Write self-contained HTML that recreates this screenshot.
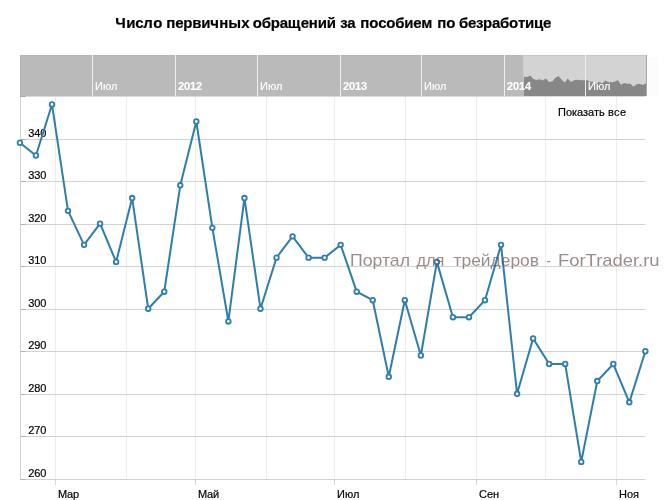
<!DOCTYPE html>
<html><head><meta charset="utf-8">
<style>
html,body{margin:0;padding:0;background:#fff;}
body{width:666px;height:500px;overflow:hidden;position:relative;font-family:"Liberation Sans",sans-serif;}
svg{position:absolute;left:0;top:0;will-change:transform;}
text{font-family:"Liberation Sans",sans-serif;}
line{stroke-width:1px;}
.ti{font-size:15px;font-weight:bold;fill:#000;stroke:#000;stroke-width:0.2px;}
.yl{font-size:11px;fill:#000;stroke:#000;stroke-width:0.2px;}
.xl{font-size:11px;fill:#000;stroke:#000;stroke-width:0.2px;}
.nl{font-size:11px;fill:#fff;stroke:#fff;stroke-width:0.15px;}
.nlb{font-size:11px;fill:#fff;font-weight:bold;stroke:#fff;stroke-width:0.15px;}
.wm{font-size:17px;fill:#6a4f4f;stroke:none;}
.btn{font-size:11px;fill:#000;stroke:#000;stroke-width:0.2px;}
</style></head>
<body>
<svg width="666" height="500" viewBox="0 0 666 500">
<rect x="20" y="55" width="627" height="41" fill="#bababa"/>
<rect x="524" y="55" width="123" height="41" fill="#d3d3d3"/>
<polygon points="524,96 524.00,76.72 527.13,77.12 530.26,75.50 533.38,78.88 536.51,79.95 539.64,79.28 542.77,80.50 545.90,78.47 549.03,81.98 552.15,81.44 555.28,78.06 558.41,76.04 561.54,79.42 564.67,82.39 567.79,78.47 570.92,81.98 574.05,80.36 577.18,79.69 580.31,80.36 583.44,80.36 586.56,79.95 589.69,81.44 592.82,81.71 595.95,84.14 599.08,81.71 602.21,83.47 605.33,80.50 608.46,82.25 611.59,82.25 614.72,81.71 617.85,79.95 620.97,84.68 624.10,82.92 627.23,83.73 630.36,83.73 633.49,86.84 636.62,84.28 639.74,83.73 642.87,84.95 646.00,83.33 646.5,96" fill="#878787"/>
<line x1="20" y1="55.5" x2="524" y2="55.5" stroke="#b4b4b4"/>
<line x1="20.5" y1="55" x2="20.5" y2="96" stroke="#b3b3b3"/>
<line x1="524" y1="55.5" x2="647" y2="55.5" stroke="#c6c6c6"/>
<defs><linearGradient id="eg" x1="0" y1="0" x2="0" y2="1"><stop offset="0" stop-color="#cfcfcf"/><stop offset="0.55" stop-color="#cbcbcb"/><stop offset="0.7" stop-color="#b9b9b9"/><stop offset="1" stop-color="#b9b9b9"/></linearGradient></defs>
<rect x="523" y="55" width="1" height="41" fill="url(#eg)"/>
<line x1="92.5" y1="55" x2="92.5" y2="96" stroke="#eeeeee"/>
<text x="95.00 103.00 111.00" y="90.00" class="nl">Июл</text>
<line x1="175.5" y1="55" x2="175.5" y2="96" stroke="#eeeeee"/>
<text x="178.00 184.00 190.00 196.00" y="90.00" class="nlb">2012</text>
<line x1="257.5" y1="55" x2="257.5" y2="96" stroke="#eeeeee"/>
<text x="260.00 268.00 276.00" y="90.00" class="nl">Июл</text>
<line x1="340.5" y1="55" x2="340.5" y2="96" stroke="#eeeeee"/>
<text x="343.00 349.00 355.00 361.00" y="90.00" class="nlb">2013</text>
<line x1="421.5" y1="55" x2="421.5" y2="96" stroke="#eeeeee"/>
<text x="424.00 432.00 440.00" y="90.00" class="nl">Июл</text>
<line x1="504.5" y1="55" x2="504.5" y2="96" stroke="#eeeeee"/>
<text x="507.00 513.00 519.00 525.00" y="90.00" class="nlb">2014</text>
<line x1="585.5" y1="55" x2="585.5" y2="96" stroke="#eeeeee"/>
<text x="588.00 596.00 604.00" y="90.00" class="nl">Июл</text>
<line x1="646.5" y1="55" x2="646.5" y2="96" stroke="#a8a8a8"/>
<rect x="647" y="57" width="12" height="39" fill="#fcfcfc"/>
<text x="115.30 126.30 135.30 143.30 153.30" y="27.50" class="ti">Число</text>
<text x="166.30 175.30 183.30 192.30 201.30 210.30 219.30 228.30 241.30" y="27.50" class="ti">первичных</text>
<text x="252.70 261.70 270.70 279.70 287.70 300.70 308.70 317.70 326.70" y="27.50" class="ti">обращений</text>
<text x="340.30 347.30" y="27.50" class="ti">за</text>
<text x="360.20 369.20 378.20 386.20 395.20 404.20 413.20 421.20" y="27.50" class="ti">пособием</text>
<text x="437.30 446.30" y="27.50" class="ti">по</text>
<text x="459.10 468.10 476.10 483.10 492.10 500.10 509.10 518.10 525.10 534.10 543.10" y="27.50" class="ti">безработице</text>
<line x1="55.5" y1="97" x2="55.5" y2="479" stroke="#ececec"/>
<line x1="55.5" y1="479" x2="55.5" y2="485" stroke="#d4d4d4"/>
<line x1="126.5" y1="97" x2="126.5" y2="479" stroke="#ececec"/>
<line x1="195.5" y1="97" x2="195.5" y2="479" stroke="#ececec"/>
<line x1="195.5" y1="479" x2="195.5" y2="485" stroke="#d4d4d4"/>
<line x1="266.5" y1="97" x2="266.5" y2="479" stroke="#ececec"/>
<line x1="334.5" y1="97" x2="334.5" y2="479" stroke="#ececec"/>
<line x1="334.5" y1="479" x2="334.5" y2="485" stroke="#d4d4d4"/>
<line x1="405.5" y1="97" x2="405.5" y2="479" stroke="#ececec"/>
<line x1="476.5" y1="97" x2="476.5" y2="479" stroke="#ececec"/>
<line x1="476.5" y1="479" x2="476.5" y2="485" stroke="#d4d4d4"/>
<line x1="545.5" y1="97" x2="545.5" y2="479" stroke="#ececec"/>
<line x1="616.5" y1="97" x2="616.5" y2="479" stroke="#ececec"/>
<line x1="616.5" y1="479" x2="616.5" y2="485" stroke="#d4d4d4"/>
<line x1="20" y1="479.5" x2="645.5" y2="479.5" stroke="#d2d2d2"/>
<line x1="20" y1="479.5" x2="25.5" y2="479.5" stroke="#b0b0b0"/>
<text x="28.30 34.30 40.30" y="476.50" class="yl">260</text>
<line x1="20" y1="436.5" x2="645.5" y2="436.5" stroke="#d2d2d2"/>
<line x1="20" y1="436.5" x2="25.5" y2="436.5" stroke="#b0b0b0"/>
<text x="28.30 34.30 40.30" y="433.50" class="yl">270</text>
<line x1="20" y1="394.5" x2="645.5" y2="394.5" stroke="#d2d2d2"/>
<line x1="20" y1="394.5" x2="25.5" y2="394.5" stroke="#b0b0b0"/>
<text x="28.30 34.30 40.30" y="391.50" class="yl">280</text>
<line x1="20" y1="351.5" x2="645.5" y2="351.5" stroke="#d2d2d2"/>
<line x1="20" y1="351.5" x2="25.5" y2="351.5" stroke="#b0b0b0"/>
<text x="28.30 34.30 40.30" y="348.50" class="yl">290</text>
<line x1="20" y1="309.5" x2="645.5" y2="309.5" stroke="#d2d2d2"/>
<line x1="20" y1="309.5" x2="25.5" y2="309.5" stroke="#b0b0b0"/>
<text x="28.30 34.30 40.30" y="306.50" class="yl">300</text>
<line x1="20" y1="266.5" x2="645.5" y2="266.5" stroke="#d2d2d2"/>
<line x1="20" y1="266.5" x2="25.5" y2="266.5" stroke="#b0b0b0"/>
<text x="28.30 34.30 40.30" y="263.50" class="yl">310</text>
<line x1="20" y1="224.5" x2="645.5" y2="224.5" stroke="#d2d2d2"/>
<line x1="20" y1="224.5" x2="25.5" y2="224.5" stroke="#b0b0b0"/>
<text x="28.30 34.30 40.30" y="221.50" class="yl">320</text>
<line x1="20" y1="181.5" x2="645.5" y2="181.5" stroke="#d2d2d2"/>
<line x1="20" y1="181.5" x2="25.5" y2="181.5" stroke="#b0b0b0"/>
<text x="28.30 34.30 40.30" y="178.50" class="yl">330</text>
<line x1="20" y1="139.5" x2="645.5" y2="139.5" stroke="#d2d2d2"/>
<line x1="20" y1="139.5" x2="25.5" y2="139.5" stroke="#b0b0b0"/>
<text x="28.30 34.30 40.30" y="136.50" class="yl">340</text>
<line x1="20.5" y1="96" x2="20.5" y2="480" stroke="#d2d2d2"/>
<line x1="20" y1="96.5" x2="645.5" y2="96.5" stroke="#d9d9d9"/>
<line x1="20" y1="96.5" x2="25.5" y2="96.5" stroke="#a8a8a8"/>
<text x="58.00 67.00 73.00" y="497.50" class="xl">Мар</text>
<text x="198.00 207.00 213.00" y="497.50" class="xl">Май</text>
<text x="337.00 345.00 353.00" y="497.50" class="xl">Июл</text>
<text x="479.00 487.00 493.00" y="497.50" class="xl">Сен</text>
<text x="619.00 627.00 633.00" y="497.50" class="xl">Ноя</text>
<polyline points="19.90,142.75 35.94,155.52 51.98,104.46 68.01,210.83 84.05,244.87 100.09,223.60 116.13,261.89 132.17,198.07 148.20,308.70 164.24,291.68 180.28,185.31 196.32,121.48 212.36,227.85 228.39,321.46 244.43,198.07 260.47,308.70 276.51,257.64 292.55,236.36 308.58,257.64 324.62,257.64 340.66,244.87 356.70,291.68 372.74,300.19 388.77,376.78 404.81,300.19 420.85,355.50 436.89,261.89 452.93,317.21 468.96,317.21 485.00,300.19 501.04,244.87 517.08,393.80 533.12,338.49 549.15,364.01 565.19,364.01 581.23,461.88 597.27,381.03 613.31,364.01 629.34,402.31 645.38,351.25" fill="none" stroke="#2e7eaa" stroke-width="2" stroke-linejoin="miter"/>
<circle cx="19.90" cy="142.75" r="2.3" fill="#fff" stroke="#2e7eaa" stroke-width="1.8"/>
<circle cx="35.94" cy="155.52" r="2.3" fill="#fff" stroke="#2e7eaa" stroke-width="1.8"/>
<circle cx="51.98" cy="104.46" r="2.3" fill="#fff" stroke="#2e7eaa" stroke-width="1.8"/>
<circle cx="68.01" cy="210.83" r="2.3" fill="#fff" stroke="#2e7eaa" stroke-width="1.8"/>
<circle cx="84.05" cy="244.87" r="2.3" fill="#fff" stroke="#2e7eaa" stroke-width="1.8"/>
<circle cx="100.09" cy="223.60" r="2.3" fill="#fff" stroke="#2e7eaa" stroke-width="1.8"/>
<circle cx="116.13" cy="261.89" r="2.3" fill="#fff" stroke="#2e7eaa" stroke-width="1.8"/>
<circle cx="132.17" cy="198.07" r="2.3" fill="#fff" stroke="#2e7eaa" stroke-width="1.8"/>
<circle cx="148.20" cy="308.70" r="2.3" fill="#fff" stroke="#2e7eaa" stroke-width="1.8"/>
<circle cx="164.24" cy="291.68" r="2.3" fill="#fff" stroke="#2e7eaa" stroke-width="1.8"/>
<circle cx="180.28" cy="185.31" r="2.3" fill="#fff" stroke="#2e7eaa" stroke-width="1.8"/>
<circle cx="196.32" cy="121.48" r="2.3" fill="#fff" stroke="#2e7eaa" stroke-width="1.8"/>
<circle cx="212.36" cy="227.85" r="2.3" fill="#fff" stroke="#2e7eaa" stroke-width="1.8"/>
<circle cx="228.39" cy="321.46" r="2.3" fill="#fff" stroke="#2e7eaa" stroke-width="1.8"/>
<circle cx="244.43" cy="198.07" r="2.3" fill="#fff" stroke="#2e7eaa" stroke-width="1.8"/>
<circle cx="260.47" cy="308.70" r="2.3" fill="#fff" stroke="#2e7eaa" stroke-width="1.8"/>
<circle cx="276.51" cy="257.64" r="2.3" fill="#fff" stroke="#2e7eaa" stroke-width="1.8"/>
<circle cx="292.55" cy="236.36" r="2.3" fill="#fff" stroke="#2e7eaa" stroke-width="1.8"/>
<circle cx="308.58" cy="257.64" r="2.3" fill="#fff" stroke="#2e7eaa" stroke-width="1.8"/>
<circle cx="324.62" cy="257.64" r="2.3" fill="#fff" stroke="#2e7eaa" stroke-width="1.8"/>
<circle cx="340.66" cy="244.87" r="2.3" fill="#fff" stroke="#2e7eaa" stroke-width="1.8"/>
<circle cx="356.70" cy="291.68" r="2.3" fill="#fff" stroke="#2e7eaa" stroke-width="1.8"/>
<circle cx="372.74" cy="300.19" r="2.3" fill="#fff" stroke="#2e7eaa" stroke-width="1.8"/>
<circle cx="388.77" cy="376.78" r="2.3" fill="#fff" stroke="#2e7eaa" stroke-width="1.8"/>
<circle cx="404.81" cy="300.19" r="2.3" fill="#fff" stroke="#2e7eaa" stroke-width="1.8"/>
<circle cx="420.85" cy="355.50" r="2.3" fill="#fff" stroke="#2e7eaa" stroke-width="1.8"/>
<circle cx="436.89" cy="261.89" r="2.3" fill="#fff" stroke="#2e7eaa" stroke-width="1.8"/>
<circle cx="452.93" cy="317.21" r="2.3" fill="#fff" stroke="#2e7eaa" stroke-width="1.8"/>
<circle cx="468.96" cy="317.21" r="2.3" fill="#fff" stroke="#2e7eaa" stroke-width="1.8"/>
<circle cx="485.00" cy="300.19" r="2.3" fill="#fff" stroke="#2e7eaa" stroke-width="1.8"/>
<circle cx="501.04" cy="244.87" r="2.3" fill="#fff" stroke="#2e7eaa" stroke-width="1.8"/>
<circle cx="517.08" cy="393.80" r="2.3" fill="#fff" stroke="#2e7eaa" stroke-width="1.8"/>
<circle cx="533.12" cy="338.49" r="2.3" fill="#fff" stroke="#2e7eaa" stroke-width="1.8"/>
<circle cx="549.15" cy="364.01" r="2.3" fill="#fff" stroke="#2e7eaa" stroke-width="1.8"/>
<circle cx="565.19" cy="364.01" r="2.3" fill="#fff" stroke="#2e7eaa" stroke-width="1.8"/>
<circle cx="581.23" cy="461.88" r="2.3" fill="#fff" stroke="#2e7eaa" stroke-width="1.8"/>
<circle cx="597.27" cy="381.03" r="2.3" fill="#fff" stroke="#2e7eaa" stroke-width="1.8"/>
<circle cx="613.31" cy="364.01" r="2.3" fill="#fff" stroke="#2e7eaa" stroke-width="1.8"/>
<circle cx="629.34" cy="402.31" r="2.3" fill="#fff" stroke="#2e7eaa" stroke-width="1.8"/>
<circle cx="645.38" cy="351.25" r="2.3" fill="#fff" stroke="#2e7eaa" stroke-width="1.8"/>
<g opacity="0.66"><text x="350.00" y="266" class="wm" textLength="60.00" lengthAdjust="spacingAndGlyphs">Портал</text><text x="416.50" y="266" class="wm" textLength="28.00" lengthAdjust="spacingAndGlyphs">для</text><text x="453.50" y="266" class="wm" textLength="85.50" lengthAdjust="spacingAndGlyphs">трейдеров</text><text x="546.50" y="266" class="wm" textLength="4.50" lengthAdjust="spacingAndGlyphs">-</text><text x="558.00" y="266" class="wm" textLength="101.50" lengthAdjust="spacingAndGlyphs">ForTrader.ru</text></g>
<text x="558.00 566.00 572.00 577.00 583.00 588.00 594.00 599.00 605.00 608.00 614.00 620.00" y="116.00" class="btn">Показать все</text>
</svg>
</body></html>
